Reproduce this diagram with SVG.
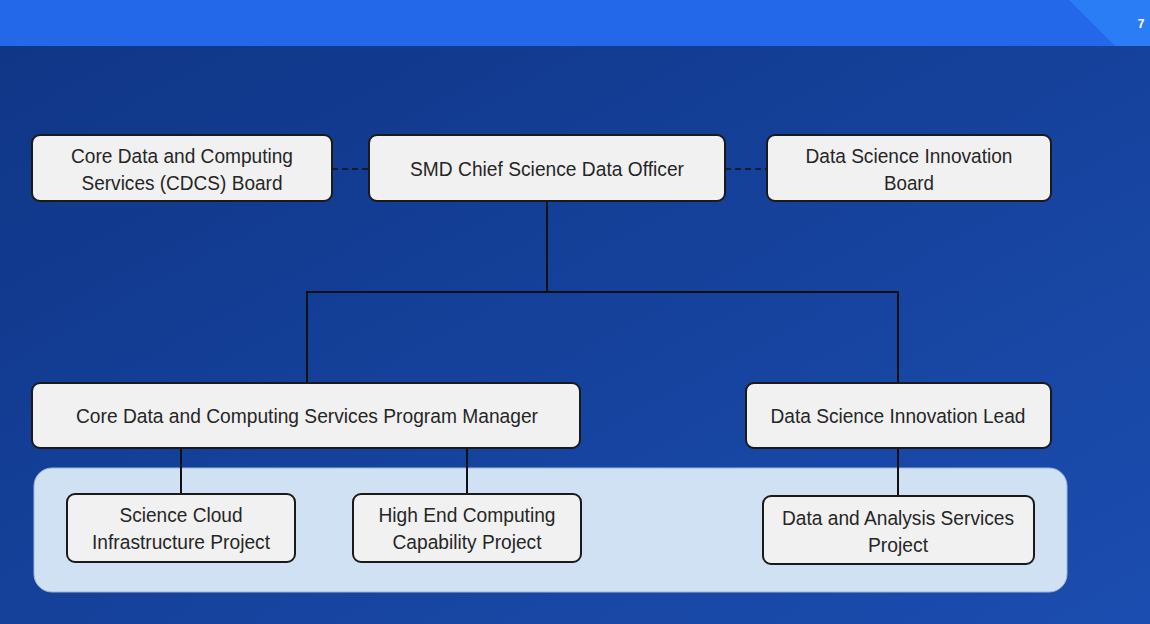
<svg xmlns="http://www.w3.org/2000/svg" width="1150" height="624" viewBox="0 0 1150 624">
<defs>
<linearGradient id="bg" x1="0" y1="0" x2="1" y2="1">
<stop offset="0" stop-color="#0f3585"/>
<stop offset="1" stop-color="#1b4db0"/>
</linearGradient>
<style>
.box{fill:#f1f1f1;stroke:#1a1a1a;stroke-width:2}
.t{font-family:"Liberation Sans",Arial,sans-serif;font-size:20.5px;fill:#262626;text-anchor:middle}
.ln{stroke:#111;stroke-width:2;fill:none}
.dash{stroke:#111;stroke-width:1.5;stroke-dasharray:6 4;fill:none}
</style>
</defs>
<rect width="1150" height="624" fill="url(#bg)"/>
<rect width="1150" height="46" fill="#2368e8"/>
<polygon points="1069,0 1150,0 1150,46 1115,46" fill="#2a7df4"/>
<text x="1141" y="28" font-family="Liberation Sans,Arial,sans-serif" font-size="12" font-weight="bold" fill="#fff" text-anchor="middle">7</text>
<rect x="34" y="468" width="1033" height="124" rx="18" fill="#cfe1f3" stroke="#9cb8dc" stroke-width="1"/>
<g id="connectors">
<line class="dash" x1="332" y1="169" x2="369" y2="169"/>
<line class="dash" x1="725" y1="169" x2="767" y2="169"/>
<polyline class="ln" points="547,201 547,292"/>
<polyline class="ln" points="307,382 307,292 898,292 898,382"/>
<line class="ln" x1="181" y1="448" x2="181" y2="494"/>
<line class="ln" x1="467" y1="448" x2="467" y2="494"/>
<line class="ln" x1="898" y1="448" x2="898" y2="496"/>
</g>
<g id="cdcs-board">
<rect class="box" x="32" y="135" width="300" height="66" rx="8"/>
<text class="t" x="182" y="163" textLength="222" lengthAdjust="spacingAndGlyphs">Core Data and Computing</text>
<text class="t" x="182" y="190" textLength="201" lengthAdjust="spacingAndGlyphs">Services (CDCS) Board</text>
</g>
<g id="smd-cso">
<rect class="box" x="369" y="135" width="356" height="66" rx="8"/>
<text class="t" x="547" y="176" textLength="274" lengthAdjust="spacingAndGlyphs">SMD Chief Science Data Officer</text>
</g>
<g id="dsi-board">
<rect class="box" x="767" y="135" width="284" height="66" rx="8"/>
<text class="t" x="909" y="163" textLength="207" lengthAdjust="spacingAndGlyphs">Data Science Innovation</text>
<text class="t" x="909" y="190" textLength="50" lengthAdjust="spacingAndGlyphs">Board</text>
</g>
<g id="cdcs-pm">
<rect class="box" x="32" y="383" width="548" height="65" rx="8"/>
<text class="t" x="307" y="423" textLength="462" lengthAdjust="spacingAndGlyphs">Core Data and Computing Services Program Manager</text>
</g>
<g id="dsi-lead">
<rect class="box" x="746" y="383" width="305" height="65" rx="8"/>
<text class="t" x="898" y="423" textLength="255" lengthAdjust="spacingAndGlyphs">Data Science Innovation Lead</text>
</g>
<g id="scip">
<rect class="box" x="67" y="494" width="228" height="68" rx="8"/>
<text class="t" x="181" y="522" textLength="123" lengthAdjust="spacingAndGlyphs">Science Cloud</text>
<text class="t" x="181" y="549" textLength="178" lengthAdjust="spacingAndGlyphs">Infrastructure Project</text>
</g>
<g id="hecc">
<rect class="box" x="353" y="494" width="228" height="68" rx="8"/>
<text class="t" x="467" y="522" textLength="177" lengthAdjust="spacingAndGlyphs">High End Computing</text>
<text class="t" x="467" y="549" textLength="149" lengthAdjust="spacingAndGlyphs">Capability Project</text>
</g>
<g id="das">
<rect class="box" x="763" y="496" width="271" height="68" rx="8"/>
<text class="t" x="898" y="525" textLength="232" lengthAdjust="spacingAndGlyphs">Data and Analysis Services</text>
<text class="t" x="898" y="552" textLength="60" lengthAdjust="spacingAndGlyphs">Project</text>
</g>
</svg>
